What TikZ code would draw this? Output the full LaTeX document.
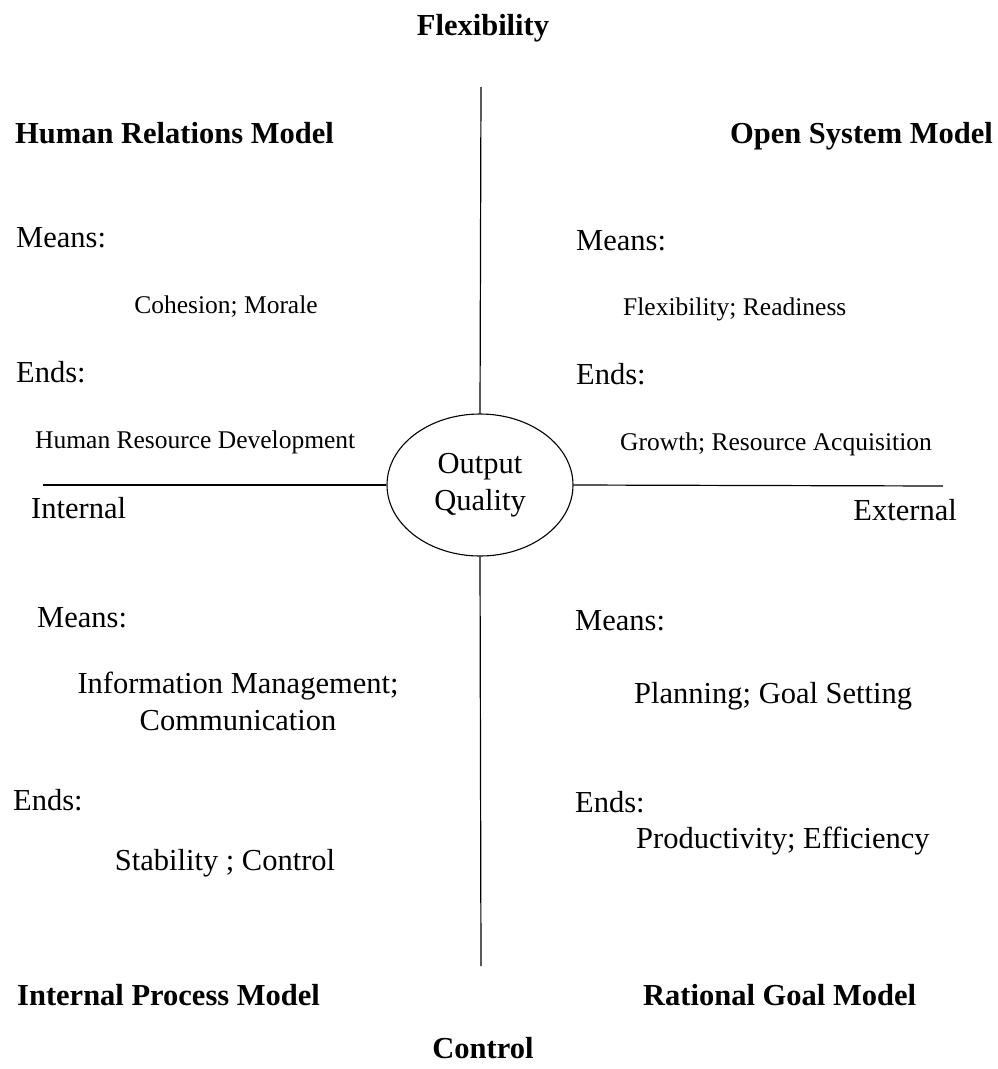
\documentclass[tikz,border=0pt]{standalone}
\usepackage{fontspec}
\setmainfont{Liberation Serif}
\usetikzlibrary{positioning,shapes.geometric}

\begin{document}
\begin{tikzpicture}[
            x=1pt, y=-1pt,
            heading/.style={inner sep=0pt, font=\fontsize{30.5}{37}\selectfont\bfseries},
            label/.style={inner sep=0pt, font=\fontsize{30.5}{37}\selectfont},
            detail/.style={inner sep=0pt, font=\fontsize{25.5}{31}\selectfont},
            axis/.style={line width=1.2pt},
            hub/.style={
                ellipse, draw, line width=1.1pt,
                minimum width=186pt, minimum height=142pt,
                inner sep=0pt, align=center,
                font=\fontsize{30.5}{37}\selectfont
            },
        ]
            \useasboundingbox (0,0) rectangle (997,1069);

            % centre and the two axes
            \node [hub] (quality) at (480,485) {Output\\Quality};
            \coordinate (top)    at (481,87);
            \coordinate (bottom) at (481,966);
            \coordinate (left)   at (43,485);
            \coordinate (right)  at (943,486);
            \draw [axis] (top) -- (quality.north);
            \draw [axis] (quality.south) -- (bottom);
            \draw [axis] (left) -- (quality.west);
            \draw [axis] (quality.east) -- (right);

            \node [heading, anchor=base] (flexibility) at (483,35)   {Flexibility};
            \node [heading, anchor=base] (control)     at (483,1058) {Control};
            \node [label, anchor=base west] (internal) at (31,518)  {Internal};
            \node [label, anchor=base east] (external) at (957,520) {External};

            % upper left
            \node [heading, anchor=base west] (hrm) at (15,143) {Human Relations Model};
            \node [label, anchor=base west] (hrm-means) at (16,247) {Means:};
            \node [detail, anchor=base] (hrm-means-txt) at (226,313.5) {Cohesion; Morale};
            \node [label, anchor=base west] (hrm-ends) at (16,382) {Ends:};
            \node [detail, anchor=base west] (hrm-ends-txt) at (35,448.5) {Human Resource Development};

            % upper right
            \node [heading, anchor=base east] (osm) at (993,143) {Open System Model};
            \node [label, anchor=base west] (osm-means) at (576,250) {Means:};
            \node [detail, anchor=base west] (osm-means-txt) at (623,315.5) {Flexibility; Readiness};
            \node [label, anchor=base west] (osm-ends) at (576,384) {Ends:};
            \node [detail, anchor=base west] (osm-ends-txt) at (620,450.5) {Growth; Resource Acquisition};

            % lower left
            \node [label, anchor=base west] (ipm-means) at (37,627) {Means:};
            \node [label, align=center] (ipm-means-txt) at (238,701) {Information Management;\\Communication};
            \node [label, anchor=base west] (ipm-ends) at (13,810) {Ends:};
            \node [label, anchor=base] (ipm-ends-txt) at (225,870) {Stability ; Control};
            \node [heading, anchor=base west] (ipm) at (17,1005) {Internal Process Model};

            % lower right
            \node [label, anchor=base west] (rgm-means) at (575,630) {Means:};
            \node [label, anchor=base west] (rgm-means-txt) at (634,703) {Planning; Goal Setting};
            \node [label, anchor=base west] (rgm-ends) at (575,812) {Ends:};
            \node [label, anchor=base west] (rgm-ends-txt) at (636,848) {Productivity; Efficiency};
            \node [heading, anchor=base west] (rgm) at (643,1005) {Rational Goal Model};

        \end{tikzpicture}
\end{document}
